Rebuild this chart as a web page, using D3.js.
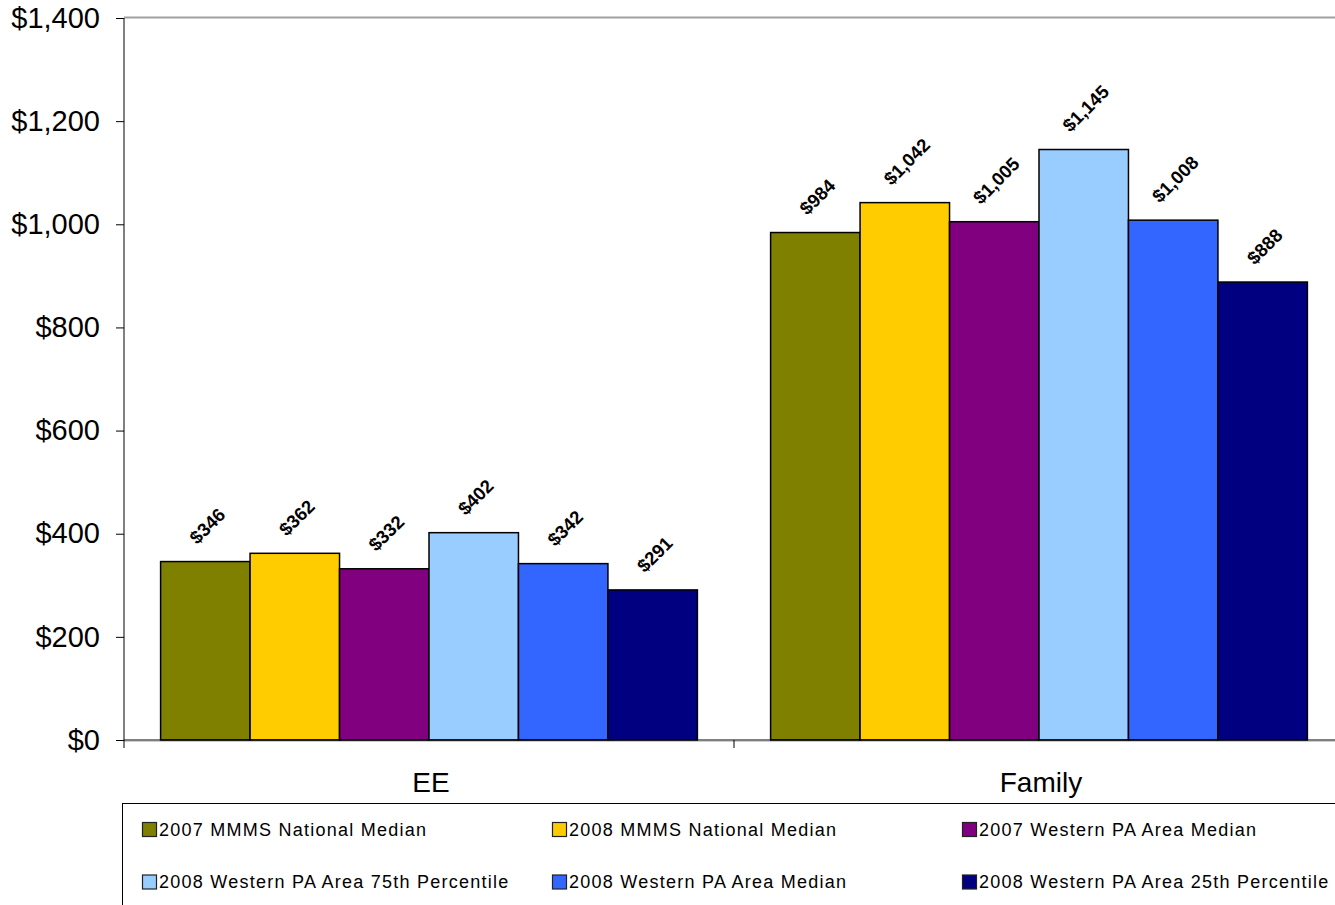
<!DOCTYPE html>
<html><head><meta charset="utf-8">
<script src="https://cdn.jsdelivr.net/npm/d3@7"></script>
<style>body{margin:0;background:#fff;}svg{display:block;font-family:"Liberation Sans",Arial,sans-serif;}</style>
</head><body><svg id="c" width="1335" height="905"></svg>
<script>
const categories = ["EE", "Family"];
const seriesNames = ["2007 MMMS National Median","2008 MMMS National Median","2007 Western PA Area Median","2008 Western PA Area 75th Percentile","2008 Western PA Area Median","2008 Western PA Area 25th Percentile"];
const seriesColors = ["#808000","#FFCC00","#800080","#99CCFF","#3366FF","#000080"];
const eeValues = [346, 362, 332, 402, 342, 291];
const familyValues = [984, 1042, 1005, 1145, 1008, 888];
const yTicks = [0,200,400,600,800,1000,1200,1400];

(function(){
const svg = d3.select("#c");
const pL=124, pR=1344, pT=18, pB=740;
const y = d3.scaleLinear().domain([0,1400]).range([pB, pT]);
const x0 = d3.scaleBand().domain(categories).range([pL,pR]).paddingInner(0.12).paddingOuter(0.06);
const x1 = d3.scaleBand().domain(seriesNames).range([0, x0.bandwidth()]);
const fmt = v => "$" + d3.format(",")(v);

const data = categories.map((c,i)=>({cat:c, vals:(i===0?eeValues:familyValues)}));

svg.append("line").attr("x1",pL).attr("x2",pR).attr("y1",pT-0.5).attr("y2",pT-0.5).attr("stroke","#a0a0a0").attr("stroke-width",2);
svg.append("line").attr("x1",pL).attr("x2",pR).attr("y1",pB+1.5).attr("y2",pB+1.5).attr("stroke","#ccc").attr("stroke-width",1);

const g = svg.append("g");
data.forEach(d=>{
  d.vals.forEach((v,j)=>{
    const bx = x0(d.cat)+x1(seriesNames[j]);
    g.append("rect").attr("x",bx).attr("y",y(v)).attr("width",x1.bandwidth()).attr("height",pB-y(v))
      .attr("fill",seriesColors[j]).attr("stroke","#000").attr("stroke-width",1.5);
  });
});
data.forEach(d=>{
  d.vals.forEach((v,j)=>{
    const cx = x0(d.cat)+x1(seriesNames[j])+x1.bandwidth()/2 + 2;
    const t = svg.append("text").attr("text-anchor","middle")
      .attr("dominant-baseline","central").attr("font-size",18.5).attr("font-weight","bold").attr("fill","#000")
      .text(fmt(v));
    const L = t.node().getComputedTextLength();
    const py = y(v) - 21 - L*0.354;
    t.attr("x",cx).attr("y",py).attr("transform",`rotate(-45,${cx},${py})`);
  });
});

const yAxis = svg.append("g").attr("transform",`translate(${pL},0)`)
  .call(d3.axisLeft(y).tickValues(yTicks).tickFormat(fmt).tickSize(8).tickPadding(16));
yAxis.select(".domain").attr("stroke","#000").attr("d",`M0,${pT}V${pB}`);
yAxis.selectAll("text").attr("font-size",29).attr("font-family","Liberation Sans, Arial, sans-serif").attr("fill","#000");
yAxis.selectAll("line").attr("stroke","#000");

svg.append("line").attr("x1",pL).attr("x2",pR).attr("y1",pB).attr("y2",pB).attr("stroke","#000");
[pL, (pL+pR)/2, pR].forEach(t=>{
  svg.append("line").attr("x1",t).attr("x2",t).attr("y1",pB).attr("y2",pB+8).attr("stroke","#000");
});
categories.forEach(c=>{
  svg.append("text").attr("x",x0(c)+x0.bandwidth()/2+2).attr("y",782).attr("text-anchor","middle")
    .attr("dominant-baseline","central").attr("font-size",28).attr("fill","#000").text(c);
});

svg.append("rect").attr("x",122.5).attr("y",803.5).attr("width",1240).attr("height",120).attr("fill","none").attr("stroke","#000").attr("stroke-width",1);
const legX = [142, 552, 962], legY = [829.5, 882];
seriesNames.forEach((s,i)=>{
  const lx = legX[i%3], ly = legY[Math.floor(i/3)];
  svg.append("rect").attr("x",lx+0.5).attr("y",ly-7).attr("width",14).attr("height",14).attr("fill",seriesColors[i]).attr("stroke","#222").attr("stroke-width",1.2);
  svg.append("text").attr("x",lx+17).attr("y",ly).attr("dominant-baseline","central").attr("font-size",18).attr("letter-spacing",1.25).attr("fill","#000").text(s);
});
})();
</script></body></html>
